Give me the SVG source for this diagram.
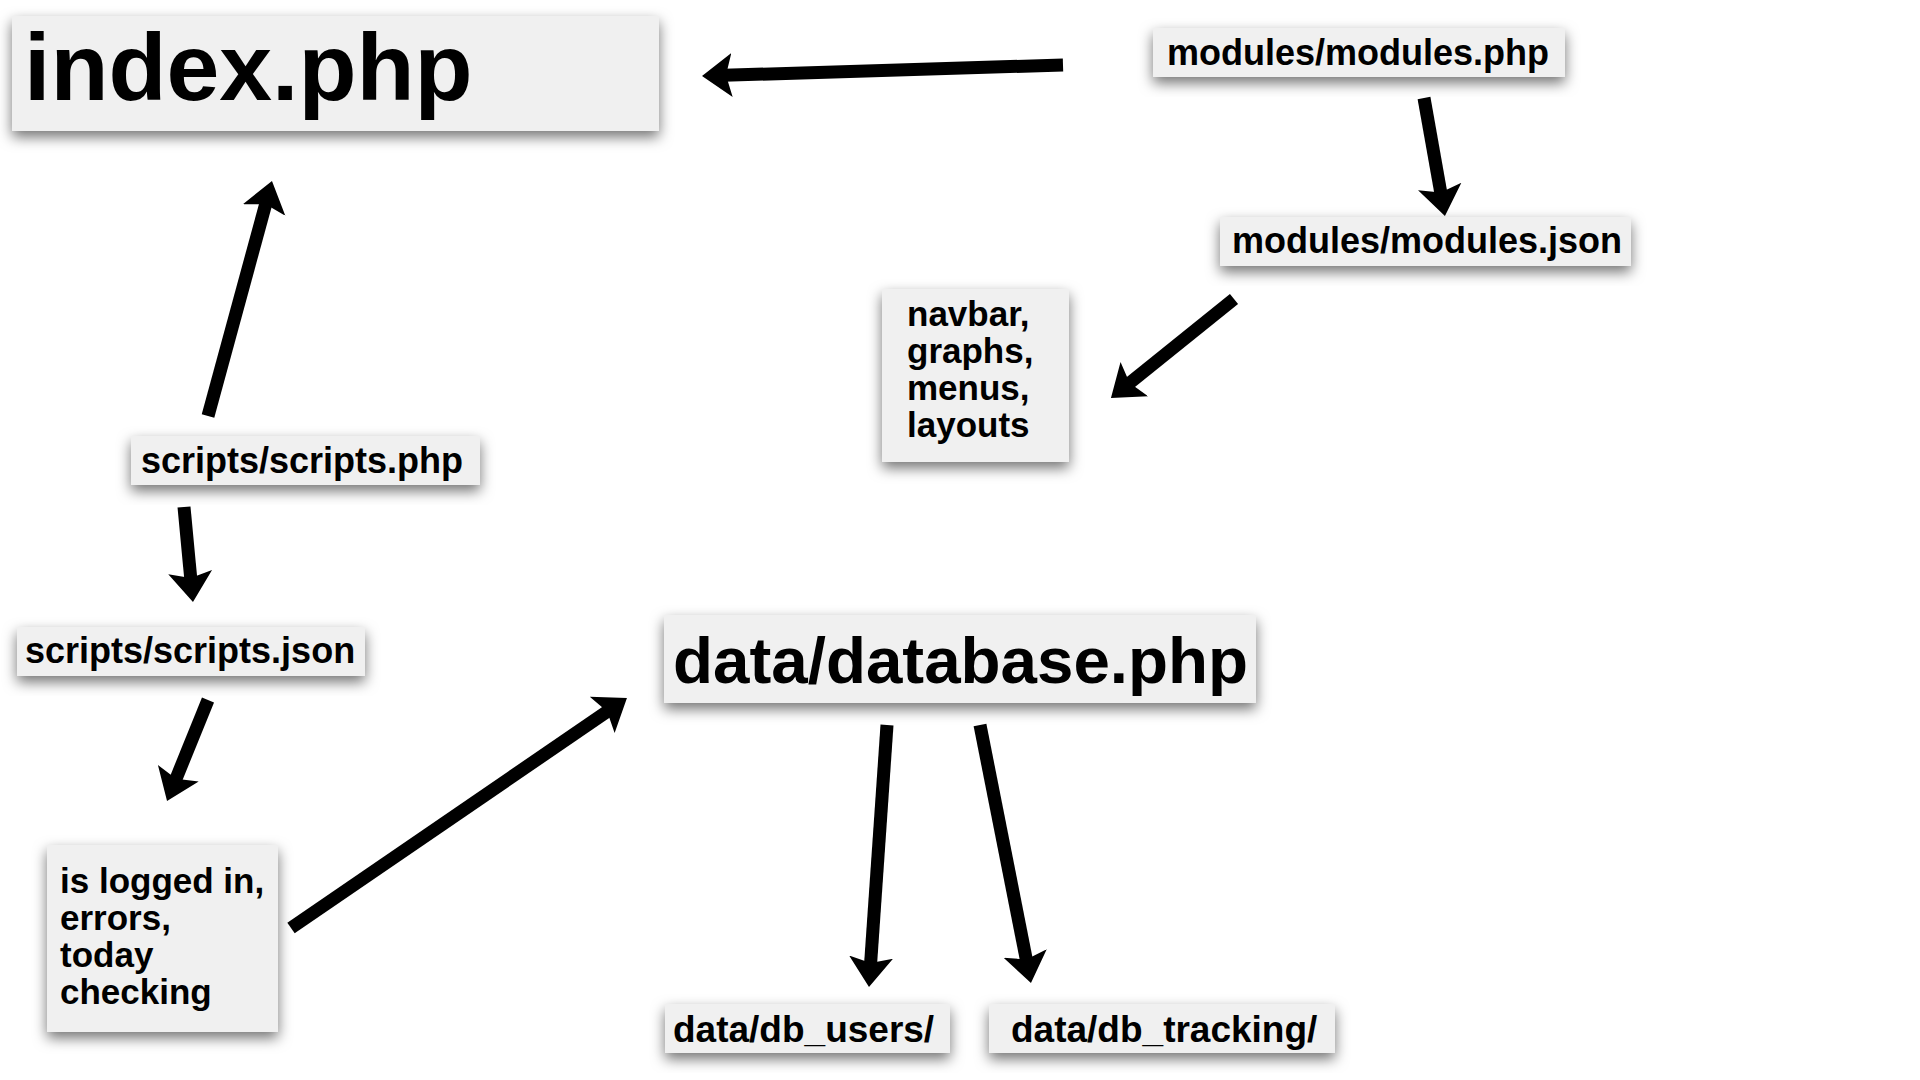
<svg xmlns="http://www.w3.org/2000/svg" width="1920" height="1080" viewBox="0 0 1920 1080">
<style>
.box{fill:#f0f0f0;filter:url(#sh)}
.t{font-family:"Liberation Sans",Arial,sans-serif;font-weight:bold;fill:#000}
.s{font-size:36px}
.m{font-size:35px}
.arr{stroke:#000;stroke-width:13;fill:none;marker-end:url(#ah)}
</style>
<defs>
<filter id="sh" x="-20%" y="-40%" width="140%" height="180%">
<feDropShadow dx="0" dy="6" stdDeviation="7" flood-color="#000" flood-opacity="0.55"/>
</filter>
<marker id="ah" markerUnits="userSpaceOnUse" viewBox="0 -24 32 48" markerWidth="32" markerHeight="48" refX="8" refY="0" orient="auto">
<path d="M30,0 L0,-22 L6,0 L0,22 Z" fill="#000"/>
</marker>
</defs>
<rect width="1920" height="1080" fill="#fff"/>
<g id="connectors">
<line class="arr" x1="1063" y1="65" x2="724" y2="75.3"/>
<line class="arr" x1="1424" y1="98" x2="1441.1" y2="194.4"/>
<line class="arr" x1="1234" y1="299" x2="1128.1" y2="384.2"/>
<line class="arr" x1="208" y1="416" x2="266.2" y2="202.2"/>
<line class="arr" x1="184" y1="507" x2="190.9" y2="580.1"/>
<line class="arr" x1="208" y1="700" x2="175.3" y2="780.6"/>
<line class="arr" x1="291" y1="928" x2="608.8" y2="710.4"/>
<line class="arr" x1="887" y1="725" x2="870.5" y2="965.1"/>
<line class="arr" x1="980" y1="725" x2="1026.7" y2="961.4"/>
</g>
<g id="index">
<rect class="box" x="12" y="16" width="647" height="115"/>
<text class="t" x="24" y="100" font-size="95">index.php</text>
</g>
<g id="modules-php">
<rect class="box" x="1153" y="28" width="412" height="49"/>
<text class="t s" x="1167" y="65">modules/modules.php</text>
</g>
<g id="modules-json">
<rect class="box" x="1220" y="217" width="411" height="49"/>
<text class="t s" x="1232" y="253">modules/modules.json</text>
</g>
<g id="navbar">
<rect class="box" x="882" y="289" width="187" height="173"/>
<text class="t m" x="907" y="326">navbar,</text>
<text class="t m" x="907" y="363">graphs,</text>
<text class="t m" x="907" y="400">menus,</text>
<text class="t m" x="907" y="437">layouts</text>
</g>
<g id="scripts-php">
<rect class="box" x="131" y="436" width="349" height="49"/>
<text class="t s" x="141" y="473">scripts/scripts.php</text>
</g>
<g id="scripts-json">
<rect class="box" x="17" y="627" width="348" height="49"/>
<text class="t s" x="25" y="663">scripts/scripts.json</text>
</g>
<g id="logged">
<rect class="box" x="47" y="845" width="231" height="187"/>
<text class="t m" x="60" y="893">is logged in,</text>
<text class="t m" x="60" y="930">errors,</text>
<text class="t m" x="60" y="967">today</text>
<text class="t m" x="60" y="1004">checking</text>
</g>
<g id="database">
<rect class="box" x="664" y="615" width="592" height="88"/>
<text class="t" x="673" y="683" font-size="65.5">data/database.php</text>
</g>
<g id="db-users">
<rect class="box" x="665" y="1004" width="285" height="49"/>
<text class="t" x="673" y="1042" font-size="37">data/db_users/</text>
</g>
<g id="db-tracking">
<rect class="box" x="989" y="1004" width="346" height="49"/>
<text class="t" x="1011" y="1042" font-size="37">data/db_tracking/</text>
</g>
</svg>
